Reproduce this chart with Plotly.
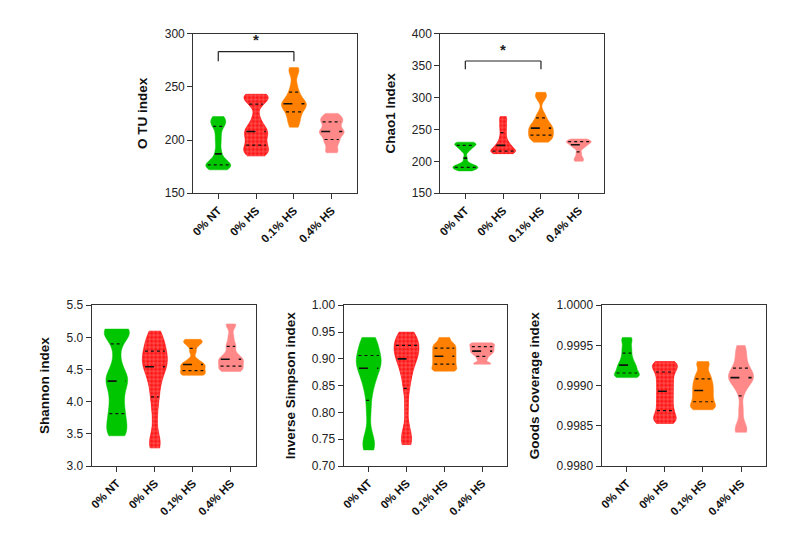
import numpy as np
import plotly.graph_objects as go

groups = ["0% NT", "0% HS", "0.1% HS", "0.4% HS"]
colors = ["rgb(0,198,0)", "rgb(255,20,20)", "rgb(255,128,0)", "rgb(255,136,136)"]

otu_nt = [172, 173, 175, 176, 177, 178, 180, 184, 190, 198, 205, 212, 215, 217, 220, 222]
otu_hs = [185, 187, 189, 191, 193, 196, 199, 202, 205, 207, 209, 212, 215, 222, 233, 236, 239, 241, 242, 243]
otu_01 = [212, 215, 219, 222, 225, 228, 230, 232, 233, 234, 235, 237, 240, 243, 247, 253, 262, 266, 268]
otu_04 = [188, 191, 196, 199, 202, 205, 207, 208, 210, 213, 216, 218, 220, 222, 225]

chao_nt = [185, 187, 189, 190, 190, 191, 192, 194, 196, 205, 216, 219, 222, 224, 226, 227, 228, 229, 230]
chao_hs = [212, 213, 214, 215, 216, 218, 220, 222, 225, 228, 232, 238, 245, 252, 258, 265, 270]
chao_01 = [230, 233, 236, 238, 241, 244, 247, 250, 252, 255, 258, 262, 268, 275, 298, 303, 308]
chao_04 = [200, 203, 207, 213, 220, 223, 225, 227, 229, 230, 231, 232, 234, 235]

shan_nt = [3.47, 3.5, 3.55, 3.62, 3.7, 3.78, 3.85, 3.95, 4.05, 4.15, 4.25, 4.32, 4.35, 4.4, 4.45,
           4.6, 4.8, 5.0, 5.05, 5.08, 5.1, 5.12, 5.13]
shan_hs = [3.28, 3.32, 3.38, 3.44, 3.7, 3.9, 4.05, 4.15, 4.25, 4.35, 4.42, 4.48, 4.52, 4.57, 4.6,
           4.62, 4.66, 4.7, 4.75, 4.8, 4.83, 4.88, 4.93, 5.0, 5.05, 5.1]
shan_01 = [4.41, 4.42, 4.44, 4.47, 4.5, 4.53, 4.56, 4.58, 4.6, 4.65, 4.78, 4.88, 4.92, 4.95, 4.97]
shan_04 = [4.47, 4.48, 4.5, 4.53, 4.56, 4.6, 4.63, 4.65, 4.67, 4.7, 4.75, 4.85, 4.9, 5.02, 5.18, 5.21]

isimp_nt = [0.73, 0.735, 0.745, 0.76, 0.8, 0.83, 0.85, 0.86, 0.87, 0.88, 0.885, 0.89, 0.895, 0.9,
            0.905, 0.91, 0.92, 0.93, 0.935, 0.94]
isimp_hs = [0.74, 0.745, 0.755, 0.77, 0.81, 0.845, 0.86, 0.875, 0.885, 0.895, 0.9, 0.905, 0.91,
            0.915, 0.92, 0.925, 0.93, 0.935, 0.94, 0.945, 0.95]
isimp_01 = [0.877, 0.88, 0.885, 0.89, 0.895, 0.9, 0.905, 0.91, 0.915, 0.92, 0.925, 0.93, 0.94]
isimp_04 = [0.89, 0.892, 0.9, 0.906, 0.91, 0.913, 0.916, 0.919, 0.922, 0.925, 0.928, 0.93]

goods_nt = [0.99910, 0.99911, 0.99913, 0.99915, 0.99918, 0.99921, 0.99924, 0.99927, 0.99931,
            0.99936, 0.99942, 0.99948, 0.99955, 0.99960]
goods_hs = [0.99853, 0.99855, 0.99857, 0.99859, 0.99862, 0.99865, 0.99869, 0.99873, 0.99877,
            0.99881, 0.99885, 0.99889, 0.99893, 0.99897, 0.99901, 0.99905, 0.99909, 0.99913,
            0.99917, 0.99920, 0.99923, 0.99925, 0.99927, 0.99929, 0.99930]
goods_01 = [0.99870, 0.99872, 0.99875, 0.99878, 0.99882, 0.99886, 0.99890, 0.99894, 0.99898,
            0.99902, 0.99906, 0.99911, 0.99916, 0.99925, 0.99930]
goods_04 = [0.99842, 0.99845, 0.99849, 0.99870, 0.99893, 0.99902, 0.99906, 0.99909, 0.99911,
            0.99913, 0.99916, 0.99920, 0.99927, 0.99935, 0.99943, 0.99950]

panels = [
    dict(title="O TU index", data=[otu_nt, otu_hs, otu_01, otu_04], yr=[150, 300], dt=50, fmt="d",
         xd=[183, 347], yd=[19, 183]),
    dict(title="Chao1 Index", data=[chao_nt, chao_hs, chao_01, chao_04], yr=[150, 400], dt=50, fmt="d",
         xd=[431, 595], yd=[19, 183]),
    dict(title="Shannon index", data=[shan_nt, shan_hs, shan_01, shan_04], yr=[3.0, 5.5], dt=0.5, fmt=".1f",
         xd=[81, 246], yd=[298, 463]),
    dict(title="Inverse Simpson index", data=[isimp_nt, isimp_hs, isimp_01, isimp_04], yr=[0.70, 1.00],
         dt=0.05, fmt=".2f", xd=[334, 498], yd=[298, 463]),
    dict(title="Goods Coverage index", data=[goods_nt, goods_hs, goods_01, goods_04], yr=[0.998, 1.0],
         dt=0.0005, fmt=".4f", xd=[593, 758], yd=[298, 463]),
]

# significance brackets: panel index, from group, to group, bracket y, foot y, star y
sig = [(0, 0, 2, 283, 274, 294), (1, 0, 2, 357, 344, 375)]

W, H = 792, 541
VW = 0.66
BWF = 0.08
PATTERN_GROUP = 1  # the red group is drawn with a white grid texture
fig = go.Figure()
layout = dict(width=W, height=H, margin=dict(l=0, r=0, t=0, b=0), showlegend=False,
              plot_bgcolor="white", paper_bgcolor="white", violinmode="overlay",
              font=dict(family="Liberation Sans, Arial, sans-serif", color="#222"))


def kde(vals, bw, y):
    v = np.asarray(vals)[:, None]
    return np.exp(-0.5 * ((y[None, :] - v) / bw) ** 2).sum(axis=0)


for pi, p in enumerate(panels):
    sfx = "" if pi == 0 else str(pi + 1)
    xa, ya = "x" + sfx, "y" + sfx
    for gi, vals in enumerate(p["data"]):
        vals = np.array(vals, dtype=float)
        rng = vals.max() - vals.min()
        bw = BWF * rng
        fig.add_trace(go.Violin(
            x=[gi] * len(vals), y=vals, xaxis=xa, yaxis=ya,
            width=VW, scalemode="width", spanmode="hard", bandwidth=bw,
            fillcolor=colors[gi], line=dict(color=colors[gi], width=0.5),
            points=False, box_visible=False, meanline_visible=False,
            hoverinfo="skip", opacity=1))
        grid = np.linspace(vals.min(), vals.max(), 300)
        dens = kde(vals, bw, grid)
        dmax = dens.max()
        if gi == PATTERN_GROUP:
            hwg = 0.5 * VW * dens / dmax * 0.97
            fig.add_trace(go.Scatter(
                x=np.concatenate([gi + hwg, (gi - hwg)[::-1]]),
                y=np.concatenate([grid, grid[::-1]]), xaxis=xa, yaxis=ya,
                mode="lines", line=dict(width=0, color=colors[gi]), fill="toself",
                fillcolor=colors[gi],
                fillpattern=dict(shape="+", bgcolor=colors[gi], fgcolor="white", size=4, solidity=0.25),
                hoverinfo="skip"))
        q1, med, q3 = np.percentile(vals, [25, 50, 75])
        for q, dash, lw in [(q1, "dot", 1.2), (med, "dash", 1.6), (q3, "dot", 1.2)]:
            hw = 0.5 * VW * kde(vals, bw, np.array([q]))[0] / dmax * 0.85
            fig.add_trace(go.Scatter(
                x=[gi - hw, gi + hw], y=[q, q], xaxis=xa, yaxis=ya, mode="lines",
                line=dict(color="#111", width=lw, dash=dash), hoverinfo="skip"))

    xdom = [p["xd"][0] / W, p["xd"][1] / W]
    ydom = [(H - p["yd"][1]) / H, (H - p["yd"][0]) / H]
    ticks = list(np.arange(p["yr"][0], p["yr"][1] + p["dt"] / 2, p["dt"]))
    layout["xaxis" + sfx] = dict(
        domain=xdom, anchor=ya, range=[-0.66, 3.66], tickmode="array",
        tickvals=list(range(len(groups))), ticktext=["<b>" + g + "</b>" for g in groups], tickangle=-45,
        ticks="outside", ticklen=5, tickwidth=1.2, tickcolor="#333",
        showline=True, linecolor="#333", linewidth=1.3, mirror=True,
        showgrid=False, zeroline=False,
        tickfont=dict(size=11.5, family="Liberation Sans, Arial", color="#111"))
    layout["yaxis" + sfx] = dict(
        domain=ydom, anchor=xa, range=p["yr"], tickmode="array", tickvals=ticks,
        tickformat=p["fmt"], ticks="outside", ticklen=5, tickwidth=1.2, tickcolor="#333",
        showline=True, linecolor="#333", linewidth=1.3, mirror=True,
        showgrid=False, zeroline=False,
        tickfont=dict(size=12, color="#222"),
        title=dict(text="<b>" + p["title"] + "</b>", font=dict(size=13.5, color="#111"), standoff=13))

shapes, annots = [], []
for pi, g0, g1, yb, yf, ys in sig:
    sfx = "" if pi == 0 else str(pi + 1)
    xa, ya = "x" + sfx, "y" + sfx
    ln = dict(color="#222", width=1.2)
    shapes.append(dict(type="line", xref=xa, yref=ya, x0=g0, x1=g1, y0=yb, y1=yb, line=ln))
    shapes.append(dict(type="line", xref=xa, yref=ya, x0=g0, x1=g0, y0=yb, y1=yf, line=ln))
    shapes.append(dict(type="line", xref=xa, yref=ya, x0=g1, x1=g1, y0=yb, y1=yf, line=ln))
    annots.append(dict(x=(g0 + g1) / 2, y=ys, xref=xa, yref=ya, text="<b>*</b>", showarrow=False,
                       font=dict(size=15, color="#222")))
layout["shapes"] = shapes
layout["annotations"] = annots
fig.update_layout(**layout)
fig.write_html("out.html")
